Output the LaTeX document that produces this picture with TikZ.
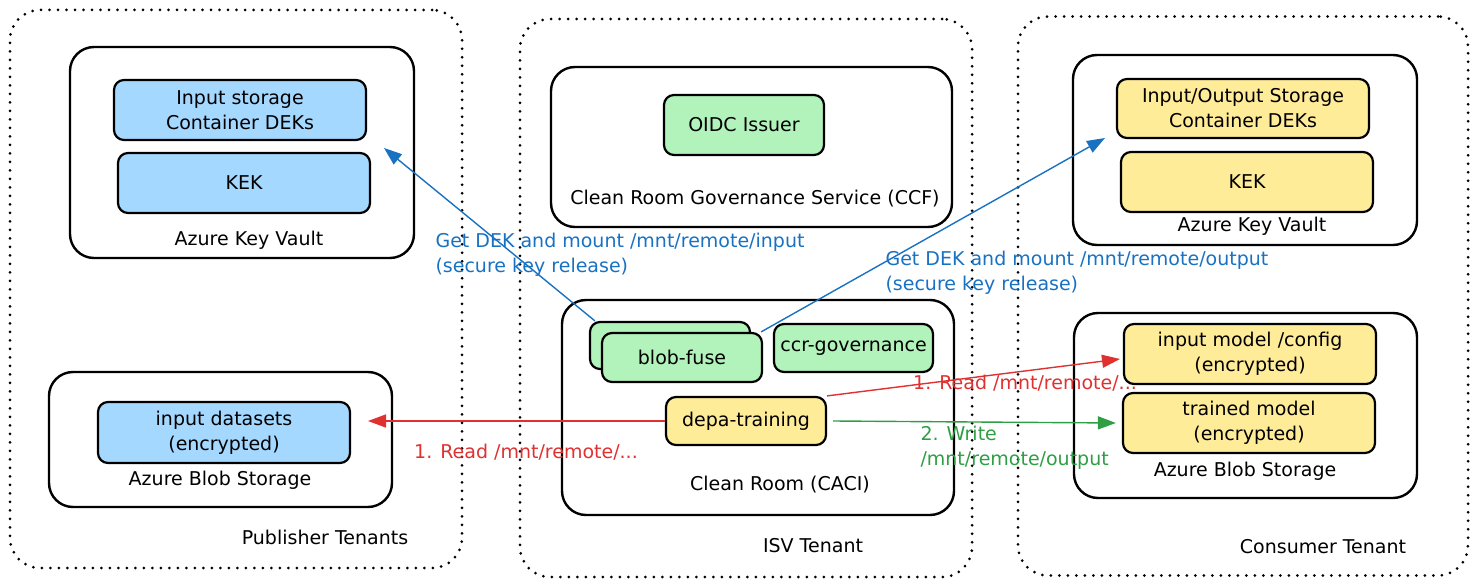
\documentclass[tikz,border=0pt]{standalone}
\usepackage{fontspec}
\setmainfont{DejaVu Sans}
\usepackage{tikz}
\usetikzlibrary{arrows.meta}
\usepackage{xcolor}
\definecolor{keyblue}{HTML}{A5D8FF}
\definecolor{appgreen}{HTML}{B2F2BB}
\definecolor{datayellow}{HTML}{FFEC99}
\definecolor{linkblue}{HTML}{1971C2}
\definecolor{linkred}{HTML}{E03131}
\definecolor{linkgreen}{HTML}{2F9E44}

\begin{document}
\begin{tikzpicture}[x=1pt, y=-1pt, font=\fontsize{19}{25}\selectfont,
    tenant/.style={draw, line width=3pt, dash pattern=on 0pt off 8.5pt, line cap=round, rounded corners=30pt, inner sep=0pt},
    service/.style={draw, line width=2.4pt, rounded corners=24pt, inner sep=0pt},
    part/.style={draw, line width=2.2pt, rounded corners=10pt, inner sep=0pt, align=center},
    link/.style={line width=1.4pt, -{Triangle[length=18pt, width=13pt]}}]
    \useasboundingbox (0, 0) rectangle (1478, 588);

    \node[tenant, minimum width=452, minimum height=558] (pub) at (236, 289) {};
    \node[tenant, minimum width=452, minimum height=558] (isv) at (746, 298) {};
    \node[tenant, minimum width=450, minimum height=559] (con) at (1243, 296) {};

    \node[service, minimum width=344, minimum height=211] (pubakv) at (242, 152.5) {};
    \node[part, fill=keyblue, minimum width=252, minimum height=60] (indek) at (240, 110) {Input storage\\Container DEKs};
    \node[part, fill=keyblue, minimum width=252, minimum height=60] (pubkek) at (244, 183) {KEK};
    \node (pubakvlbl) at (249, 240) {Azure Key Vault};

    \node[service, minimum width=343, minimum height=135] (pubblob) at (220.5, 439.5) {};
    \node[part, fill=keyblue, minimum width=252, minimum height=61] (datasets) at (224, 432.5) {input datasets\\(encrypted)};
    \node (pubbloblbl) at (220, 480) {Azure Blob Storage};
    \node (publbl) at (325, 537) {Publisher Tenants};

    \node[service, minimum width=401, minimum height=160] (ccf) at (751.5, 147) {};
    \node[part, fill=appgreen, minimum width=160, minimum height=60] (oidc) at (744, 125) {OIDC Issuer};
    \node (ccflbl) at (755, 199) {Clean Room Governance Service (CCF)};

    \node[service, minimum width=392, minimum height=215] (cleanroom) at (758, 407.5) {};
    \node[part, fill=appgreen, minimum width=160, minimum height=47] (bfback) at (670, 345.5) {};
    \node[part, fill=appgreen, minimum width=160, minimum height=49] (bffront) at (682, 357.5) {blob-fuse};
    \node[part, fill=appgreen, minimum width=159, minimum height=48] (ccrgov) at (853.5, 348) {ccr-governance};
    \node[part, fill=datayellow, minimum width=160, minimum height=48] (depa) at (746, 421) {depa-training};
    \node (cleanroomlbl) at (780, 485) {Clean Room (CACI)};
    \node (isvlbl) at (813, 546) {ISV Tenant};

    \node[service, minimum width=344, minimum height=190] (conakv) at (1245, 150) {};
    \node[part, fill=datayellow, minimum width=252, minimum height=59] (iodek) at (1243, 108.5) {Input/Output Storage\\Container DEKs};
    \node[part, fill=datayellow, minimum width=252, minimum height=60] (conkek) at (1247, 182) {KEK};
    \node (conakvlbl) at (1252, 226) {Azure Key Vault};

    \node[service, minimum width=343, minimum height=185] (conblob) at (1245.5, 405.5) {};
    \node[part, fill=datayellow, minimum width=252, minimum height=60] (inmodel) at (1250, 354) {input model /config\\(encrypted)};
    \node[part, fill=datayellow, minimum width=252, minimum height=60] (trained) at (1249, 423) {trained model\\(encrypted)};
    \node (conbloblbl) at (1245, 471) {Azure Blob Storage};
    \node (conlbl) at (1323, 547) {Consumer Tenant};

    \coordinate (pubdek) at (384, 148);
    \coordinate (condek) at (1105, 138);
    \coordinate (readin) at (368, 421);
    \coordinate (readmodel) at (1120, 359);

    \draw[link, linkblue] ([xshift=6]bfback.north west) -- (pubdek);
    \draw[link, linkblue] ([xshift=-2]bffront.north east) -- (condek);
    \draw[link, linkred] (depa.west) -- (readin);
    \draw[link, linkred] (depa.north east) -- (readmodel);
    \draw[link, linkgreen] ([xshift=6]depa.east) -- ([xshift=-6]trained.west);

    \node[linkblue, anchor=west, align=left] (inputlbl) at (432, 255) {Get DEK and mount /mnt/remote/input\\(secure key release)};
    \node[linkblue, anchor=west, align=left] (outputlbl) at (882, 273) {Get DEK and mount /mnt/remote/output\\(secure key release)};
    \node[linkred] (readinlbl) at (526, 452) {1. Read /mnt/remote/...};
    \node[linkred] (readmodellbl) at (1025, 383) {1. Read /mnt/remote/...};
    \node[linkgreen, anchor=west, align=left] (writelbl) at (917, 448) {2. Write\\/mnt/remote/output};
\end{tikzpicture}
\end{document}
